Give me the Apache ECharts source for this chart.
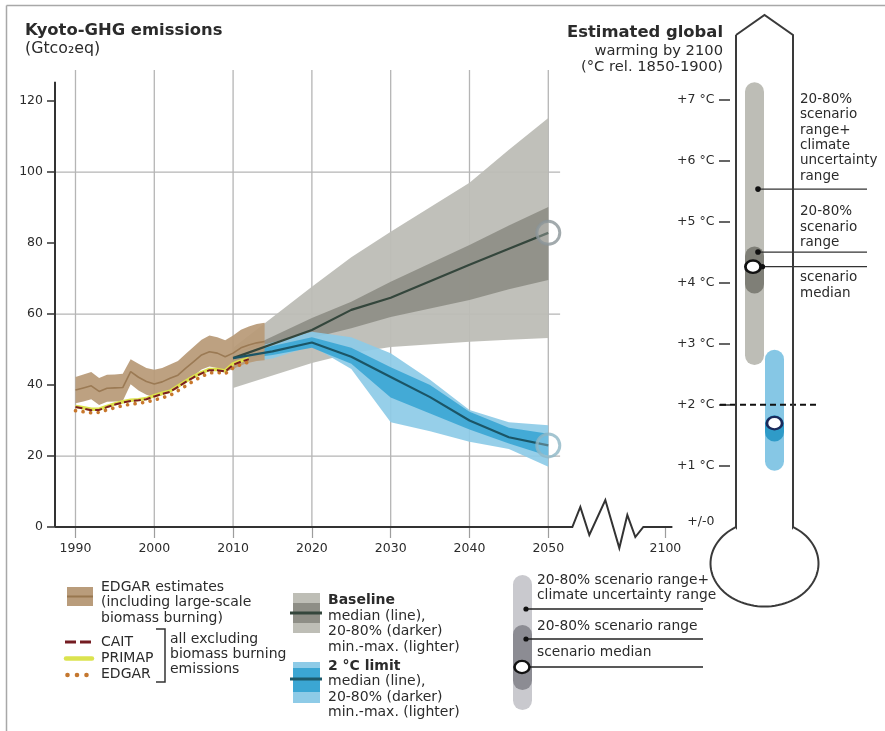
<!DOCTYPE html>
<html>
<head>
<meta charset="utf-8">
<script src="https://cdn.jsdelivr.net/npm/echarts@6/dist/echarts.min.js"></script>
<style>
html, body { margin: 0; padding: 0; background: #fff; }
#chart { width: 885px; height: 731px; }
</style>
</head>
<body>
<div id="chart"></div>
<script>
// ---- Historical Kyoto-GHG emissions (GtCO2eq) ----
const histYears = [1990, 1991, 1992, 1993, 1994, 1995, 1996, 1997, 1998, 1999, 2000, 2001, 2002,
  2003, 2004, 2005, 2006, 2007, 2008, 2009, 2010, 2011, 2012, 2013, 2014];
const edgarBioMedian = [38.6, 39.2, 39.8, 38.2, 39.1, 39.2, 39.3, 43.8, 42.2, 41.0, 40.3, 40.9, 41.9,
  42.8, 44.8, 46.6, 48.5, 49.4, 49.0, 48.0, 49.0, 50.5, 51.3, 51.9, 52.3];
const edgarBioUpper = [42.3, 43.0, 43.7, 42.0, 42.9, 43.0, 43.2, 47.3, 46.0, 44.8, 44.3, 44.8, 45.8,
  46.8, 48.8, 50.8, 52.8, 54.0, 53.5, 52.6, 54.0, 55.6, 56.5, 57.2, 57.6];
const edgarBioLower = [34.9, 35.4, 36.0, 34.4, 35.3, 35.4, 35.5, 40.2, 38.5, 37.3, 36.6, 37.1, 38.1,
  39.0, 41.0, 42.6, 44.4, 45.2, 44.8, 43.7, 44.5, 45.6, 46.3, 46.8, 47.0];

const exclYears = [1990, 1991, 1992, 1993, 1994, 1995, 1996, 1997, 1998, 1999, 2000, 2001, 2002,
  2003, 2004, 2005, 2006, 2007, 2008, 2009, 2010, 2011, 2012];
const caitValues = [33.8, 33.4, 32.9, 33.0, 33.8, 34.5, 35.1, 35.5, 35.7, 36.0, 36.8, 37.5, 38.1,
  39.5, 40.9, 42.2, 43.3, 44.2, 44.2, 43.8, 45.7, 46.6, 47.3];
const primapValues = [34.0, 33.6, 33.2, 33.2, 34.0, 34.7, 35.3, 35.7, 35.9, 36.2, 37.0, 37.7, 38.3,
  39.7, 41.1, 42.4, 43.5, 44.4, 44.4, 44.0, 46.0, 46.8, 47.5];
const edgarExclValues = [32.8, 32.5, 32.2, 32.3, 33.0, 33.6, 34.2, 34.6, 34.9, 35.2, 35.8, 36.4, 37.1,
  38.4, 39.8, 41.2, 42.4, 43.4, 43.6, 43.2, 44.8, 45.8, 46.5];

// ---- Baseline scenarios ----
const baseYears = [2010, 2020, 2025, 2030, 2040, 2045, 2050];
const baseMedian = [47.6, 55.5, 61.2, 64.6, 73.9, 78.4, 82.9];
const base20 = [46.8, 53.3, 56.0, 59.2, 64.0, 67.0, 69.6];
const base80 = [48.5, 58.9, 63.5, 69.1, 79.5, 85.0, 90.2];
const baseMin = [39.2, 46.2, 49.0, 50.7, 52.2, 52.8, 53.3];
const baseMax = [50.5, 67.7, 76.0, 83.2, 97.0, 106.3, 115.3];

// ---- 2 °C limit scenarios ----
const limitYears = [2010, 2015, 2020, 2025, 2030, 2035, 2040, 2045, 2050];
const limitMedian = [47.6, 49.5, 52.0, 48.0, 42.3, 36.6, 30.0, 25.3, 23.0];
const limit20 = [47.0, 48.5, 50.5, 46.0, 36.5, 32.0, 27.5, 23.5, 20.0];
const limit80 = [48.3, 51.0, 53.5, 50.5, 45.0, 40.0, 32.5, 28.0, 26.3];
const limitMin = [46.0, 47.5, 51.0, 44.5, 29.5, 27.0, 24.0, 22.0, 17.0];
const limitMax = [49.0, 52.0, 55.0, 53.5, 49.0, 41.5, 33.0, 29.5, 28.7];

// ---- Emission axis ticks ----
const xTickYears = [1990, 2000, 2010, 2020, 2030, 2040, 2050];
const xEndLabel = '2100';
const yTickValues = [0, 20, 40, 60, 80, 100, 120];
const yGridValues = [20, 60, 100];

// ---- Estimated global warming by 2100 (°C rel. 1850-1900) ----
const warmCategories = ['Baseline', '2 °C limit'];
const warmClimateRange = [[2.65, 7.28], [0.92, 2.90]];
const warmScenarioRange = [[3.82, 4.59], [1.40, 1.83]];
const warmMedian = [4.26, 1.70];
const warmPointers = [5.53, 4.50];
const tempTickValues = [1, 2, 3, 4, 5, 6, 7];
const tempLabelValues = [0, 1, 2, 3, 4, 5, 6, 7];
const tempLimit = 2;

// ---- layout ----
const FONT = '"DejaVu Sans", sans-serif';
const X_MIN = 1987.4, X_MAX = 2066.76;
const END_POS = 2064.86;      // where the 2100 tick sits on the compressed axis
const BREAK_START = 2053.05;  // start of the axis break
const AXIS_END = 2065.75;
const GRID_END = 2051.5;
const Y_MAX = 128.8, Y_AXIS_TOP = 125.5;
const ZIGZAG = [[0, 0], [8, -20], [17, 8], [33, -27], [47, 21], [55, -12], [63, 10], [71, 0]];
const BAR_W = 19;
const TEXT = '#2b2b2b';
const GRID_C = '#b5b5b5';
const LEG = 14;     // legend text size
const NOTE = 13.5;  // thermometer annotation size

const chart = echarts.init(document.getElementById('chart'), null, { renderer: 'canvas' });

function band(years, lo, hi, color, z, opacity) {
  return {
    type: 'custom', xAxisIndex: 0, yAxisIndex: 0, z: z, silent: true,
    data: years.map((y, i) => [y, lo[i], hi[i]]),
    encode: { x: 0, y: [1, 2] },
    renderItem(params, api) {
      if (params.dataIndex !== 0) return null;
      const top = years.map((y, i) => api.coord([y, hi[i]]));
      const bottom = years.map((y, i) => api.coord([y, lo[i]])).reverse();
      return { type: 'polygon', shape: { points: top.concat(bottom) },
        style: { fill: color, opacity: opacity == null ? 1 : opacity } };
    }
  };
}

function line(years, values, style, z) {
  return {
    type: 'line', xAxisIndex: 0, yAxisIndex: 0, z: z, silent: true,
    data: years.map((y, i) => [y, values[i]]),
    symbol: 'none', lineStyle: style, animation: false
  };
}

function warmBar(ranges, colors, z) {
  return {
    type: 'custom', xAxisIndex: 1, yAxisIndex: 1, z: z, silent: true,
    data: ranges.map((r, i) => [i, r[0], r[1]]),
    renderItem(params, api) {
      const lo = api.coord([api.value(0), api.value(1)]);
      const hi = api.coord([api.value(0), api.value(2)]);
      return { type: 'rect',
        shape: { x: lo[0] - BAR_W / 2, y: hi[1], width: BAR_W, height: lo[1] - hi[1], r: BAR_W / 2 },
        style: { fill: colors[params.dataIndex] } };
    }
  };
}

function txt(x, y, s, size, opt) {
  opt = opt || {};
  return {
    type: 'text', x: x, y: y, silent: true, z: 50,
    style: {
      text: s, fill: TEXT,
      font: (opt.bold ? 'bold ' : '') + size + 'px ' + FONT,
      align: opt.align || 'left', verticalAlign: 'middle'
    }
  };
}
function seg(x1, y1, x2, y2, stroke, w, extra) {
  return Object.assign({ type: 'line', silent: true, z: 40,
    shape: { x1, y1, x2, y2 }, style: { stroke, lineWidth: w } }, extra || {});
}
function rect(x, y, w, h, fill, r) {
  return { type: 'rect', silent: true, z: 40, shape: { x, y, width: w, height: h, r: r || 0 }, style: { fill } };
}
function dot(cx, cy, r, fill) {
  return { type: 'circle', silent: true, z: 41, shape: { cx, cy, r }, style: { fill } };
}

// thermometer outline: pointed cap, straight tube, elliptical bulb
function thermometerOutline() {
  const L = 736, R = 793, TOP = 35, APEX = 15, NECK = 527;
  const cx = 764.5, cy = 563.5, rx = 54, ry = 43;
  const a0 = Math.atan2((NECK - cy) / ry, (R - cx) / rx);
  const a1 = Math.atan2((NECK - cy) / ry, (L - cx) / rx) + Math.PI * 2;
  const pts = [[L, TOP], [(L + R) / 2, APEX], [R, TOP], [R, NECK]];
  const n = 80;
  for (let i = 0; i <= n; i++) {
    const a = a0 + (a1 - a0) * i / n;
    pts.push([cx + rx * Math.cos(a), cy + ry * Math.sin(a)]);
  }
  pts.push([L, NECK], [L, TOP]);
  return { type: 'polyline', silent: true, z: 30, shape: { points: pts },
    style: { fill: null, stroke: '#3a3a3a', lineWidth: 2, lineJoin: 'miter' } };
}

const graphics = [
  // frame
  seg(6.5, 5.5, 885, 5.5, '#a8a8a8', 1.5),
  seg(6.5, 5.5, 6.5, 731, '#a8a8a8', 1.5),
  // titles
  txt(25, 31, 'Kyoto-GHG emissions', 16.4, { bold: true }),
  txt(25, 49, '(Gtco₂eq)', 15.8),
  txt(723, 33, 'Estimated global', 16.4, { bold: true, align: 'right' }),
  txt(723, 51.5, 'warming by 2100', 14.7, { align: 'right' }),
  txt(723, 67, '(°C rel. 1850-1900)', 14.7, { align: 'right' }),
  thermometerOutline(),
  // thermometer annotation texts
  txt(800, 99, '20-80%', NOTE), txt(800, 114, 'scenario', NOTE), txt(800, 130, 'range+', NOTE),
  txt(800, 145, 'climate', NOTE), txt(800, 160.5, 'uncertainty', NOTE), txt(800, 176, 'range', NOTE),
  txt(800, 211.5, '20-80%', NOTE), txt(800, 227, 'scenario', NOTE), txt(800, 242.5, 'range', NOTE),
  txt(800, 277.5, 'scenario', NOTE), txt(800, 293, 'median', NOTE),

  // legend: EDGAR with biomass burning
  rect(67, 587, 26, 19, '#b99c7b'),
  seg(67, 596.5, 93, 596.5, '#98774f', 2),
  txt(101, 587, 'EDGAR estimates', LEG),
  txt(101, 602.5, '(including large-scale', LEG),
  txt(101, 618, 'biomass burning)', LEG),
  // legend: excluding biomass burning
  seg(65, 642, 93, 642, '#741c22', 3, { style: { stroke: '#741c22', lineWidth: 3, lineDash: [11, 4] } }),
  seg(66, 658.5, 92, 658.5, '#dbe34f', 4.5, { style: { stroke: '#dbe34f', lineWidth: 4.5, lineCap: 'round' } }),
  dot(67.5, 675, 2.3, '#c4772f'), dot(77, 675, 2.3, '#c4772f'), dot(86.5, 675, 2.3, '#c4772f'),
  txt(101, 642, 'CAIT', LEG), txt(101, 658.5, 'PRIMAP', LEG), txt(101, 674.5, 'EDGAR', LEG),
  { type: 'polyline', silent: true, z: 40, shape: { points: [[156, 629], [165, 629], [165, 682], [156, 682]] },
    style: { stroke: '#333', lineWidth: 1.5, fill: null } },
  txt(170, 639, 'all excluding', LEG), txt(170, 654, 'biomass burning', LEG), txt(170, 669, 'emissions', LEG),

  // legend: baseline
  rect(293, 593, 27, 40, '#bebeb6'),
  rect(293, 603, 27, 20, '#8e8e86'),
  seg(290, 613, 322, 613, '#34463c', 3),
  txt(328, 600, 'Baseline', LEG, { bold: true }),
  txt(328, 616, 'median (line),', LEG),
  txt(328, 631.5, '20-80% (darker)', LEG),
  txt(328, 647, 'min.-max. (lighter)', LEG),
  // legend: 2 °C limit
  rect(293, 662, 27, 41, '#8ecbe7'),
  rect(293, 668, 27, 24, '#3ba6d3'),
  seg(290, 679, 322, 679, '#1d5a6b', 3),
  txt(328, 666, '2 °C limit', LEG, { bold: true }),
  txt(328, 681.5, 'median (line),', LEG),
  txt(328, 697, '20-80% (darker)', LEG),
  txt(328, 712.5, 'min.-max. (lighter)', LEG),

  // legend: warming bar
  rect(513, 575, 19, 135, '#c9c9ce', 9.5),
  rect(513, 625, 19, 65, '#8c8c93', 9.5),
  seg(526, 609, 703, 609, '#222', 1.3),
  seg(526, 639, 703, 639, '#222', 1.3),
  seg(530, 667, 703, 667, '#222', 1.3),
  dot(526, 609, 2.6, '#111'), dot(526, 639, 2.6, '#111'),
  { type: 'circle', silent: true, z: 42, x: 522, y: 667, scaleY: 0.82, shape: { cx: 0, cy: 0, r: 7.5 },
    style: { fill: '#fff', stroke: '#111', lineWidth: 2.6 } },
  txt(537, 580, '20-80% scenario range+', 13.8),
  txt(537, 595, 'climate uncertainty range', 13.8),
  txt(537, 626, '20-80% scenario range', 13.8),
  txt(537, 652, 'scenario median', 13.8)
];

const option = {
  backgroundColor: '#fff',
  animation: false,
  grid: [
    { left: 55, width: 625.36, top: 70, bottom: 204 },
    { left: 744.5, width: 40, top: 38.2, bottom: 204 }
  ],
  xAxis: [
    {
      type: 'value', gridIndex: 0, min: X_MIN, max: X_MAX,
      axisLine: { show: false }, splitLine: { show: false },
      axisTick: { show: true, length: 11, customValues: xTickYears.concat([END_POS]),
        lineStyle: { color: '#9d9d9d', width: 1.2 } },
      axisLabel: { customValues: xTickYears.concat([END_POS]), margin: 15, color: TEXT,
        fontFamily: FONT, fontSize: 12.5,
        formatter: v => (v === END_POS ? xEndLabel : String(v)) }
    },
    { type: 'category', gridIndex: 1, data: warmCategories, show: false }
  ],
  yAxis: [
    {
      type: 'value', gridIndex: 0, min: 0, max: Y_MAX,
      axisLine: { show: false }, splitLine: { show: false },
      axisTick: { show: true, length: 8, customValues: yTickValues, lineStyle: { color: '#333', width: 1.5 } },
      axisLabel: { customValues: yTickValues, margin: 12, color: TEXT, fontFamily: FONT, fontSize: 12.5 }
    },
    {
      type: 'value', gridIndex: 1, min: 0, max: 8, offset: 14.5,
      axisLine: { show: false }, splitLine: { show: false },
      axisTick: { show: true, length: 11, customValues: tempTickValues, lineStyle: { color: '#333', width: 1.5 } },
      axisLabel: { customValues: tempLabelValues, margin: 15.5, color: TEXT, fontFamily: FONT, fontSize: 12.5,
        formatter: v => (v === 0 ? '{z|+/-0}' : '+' + v + ' °C'),
        rich: { z: { fontFamily: FONT, fontSize: 12.5, color: TEXT, padding: [0, 0, 11, 0] } } }
    }
  ],
  graphic: graphics,
  series: [
    // vertical grid lines
    {
      type: 'custom', xAxisIndex: 0, yAxisIndex: 0, z: 0, silent: true,
      data: xTickYears.map(y => [y]),
      renderItem(params, api) {
        const a = api.coord([api.value(0), 0]);
        const b = api.coord([api.value(0), Y_MAX]);
        return { type: 'line', shape: { x1: a[0], y1: a[1], x2: b[0], y2: b[1] },
          style: { stroke: GRID_C, lineWidth: 1.3 } };
      }
    },
    // horizontal grid lines
    {
      type: 'custom', xAxisIndex: 0, yAxisIndex: 0, z: 0, silent: true,
      data: yGridValues.map(v => [X_MIN, v]),
      renderItem(params, api) {
        const a = api.coord([X_MIN, api.value(1)]);
        const b = api.coord([GRID_END, api.value(1)]);
        return { type: 'line', shape: { x1: a[0], y1: a[1], x2: b[0], y2: b[1] },
          style: { stroke: GRID_C, lineWidth: 1.3 } };
      }
    },
    // axis lines with the break
    {
      type: 'custom', xAxisIndex: 0, yAxisIndex: 0, z: 20, silent: true,
      data: [[X_MIN, 0]],
      renderItem(params, api) {
        const o = api.coord([X_MIN, 0]);
        const b = api.coord([BREAK_START, 0]);
        const e = api.coord([AXIS_END, 0]);
        const t = api.coord([X_MIN, Y_AXIS_TOP]);
        const zig = ZIGZAG.map(p => [b[0] + p[0], b[1] + p[1]]);
        return { type: 'group', children: [
          { type: 'polyline', shape: { points: [o].concat(zig, [e]) },
            style: { stroke: '#333', lineWidth: 2, fill: null, lineJoin: 'miter' } },
          { type: 'line', shape: { x1: t[0], y1: t[1], x2: o[0], y2: o[1] },
            style: { stroke: '#333', lineWidth: 2 } }
        ] };
      }
    },
    // scenario ranges
    band(baseYears, baseMin, baseMax, '#bdbdb6', 2, 0.95),
    band(baseYears, base20, base80, '#8f8f87', 3, 0.95),
    band(limitYears, limitMin, limitMax, '#8dcbe7', 4, 0.92),
    band(limitYears, limit20, limit80, '#3ea8d5', 5, 0.95),
    // historical EDGAR incl. biomass burning
    band(histYears, edgarBioLower, edgarBioUpper, '#b89a77', 6, 0.93),
    line(histYears, edgarBioMedian, { color: '#9b7a54', width: 1.6 }, 7),
    // excluding biomass burning
    line(exclYears, primapValues, { color: '#dce24c', width: 3.5 }, 8),
    line(exclYears, edgarExclValues, { color: '#c8772c', width: 3.6, type: [0.1, 7.5], cap: 'round' }, 9),
    line(exclYears, caitValues, { color: '#7a1c22', width: 2, type: [7, 3] }, 10),
    // scenario medians
    line(baseYears, baseMedian, { color: '#34463c', width: 2.2 }, 11),
    line(limitYears, limitMedian, { color: '#1b5566', width: 2.2 }, 12),
    {
      type: 'scatter', xAxisIndex: 0, yAxisIndex: 0, z: 13, silent: true,
      data: [[baseYears[baseYears.length - 1], baseMedian[baseMedian.length - 1]]],
      symbol: 'circle', symbolSize: 23,
      itemStyle: { color: 'rgba(255,255,255,0.3)', borderColor: '#8b9599', borderWidth: 3 }
    },
    {
      type: 'scatter', xAxisIndex: 0, yAxisIndex: 0, z: 13, silent: true,
      data: [[limitYears[limitYears.length - 1], limitMedian[limitMedian.length - 1]]],
      symbol: 'circle', symbolSize: 23,
      itemStyle: { color: 'rgba(255,255,255,0.3)', borderColor: '#8db7c6', borderWidth: 3 }
    },

    // warming by 2100
    warmBar(warmClimateRange, ['#bdbdb6', '#86c7e5'], 20),
    warmBar(warmScenarioRange, ['#7f7f77', '#2f9bc8'], 21),
    {
      type: 'custom', xAxisIndex: 1, yAxisIndex: 1, z: 22, silent: true,
      data: warmMedian.map((v, i) => [i, v]),
      renderItem(params, api) {
        const c = api.coord([api.value(0), api.value(1)]);
        const stroke = params.dataIndex === 0 ? '#111' : '#1b2a5b';
        const children = [
          { type: 'circle', x: c[0] - (params.dataIndex === 0 ? 1.5 : 0), y: c[1], scaleY: 0.82,
            shape: { cx: 0, cy: 0, r: 7.6 }, style: { fill: '#fff', stroke: stroke, lineWidth: 2.8 } }
        ];
        if (params.dataIndex === 0) {
          children.push({ type: 'line', shape: { x1: c[0] + 6, y1: c[1], x2: 867, y2: c[1] },
            style: { stroke: '#333', lineWidth: 1.3 } });
          children.push({ type: 'circle', shape: { cx: c[0] + 8, cy: c[1], r: 2.6 }, style: { fill: '#111' } });
        }
        return { type: 'group', children: children };
      }
    },
    {
      type: 'custom', xAxisIndex: 1, yAxisIndex: 1, z: 22, silent: true,
      data: warmPointers.map(v => [0, v]),
      renderItem(params, api) {
        const c = api.coord([api.value(0), api.value(1)]);
        return { type: 'group', children: [
          { type: 'line', shape: { x1: c[0] + 3.5, y1: c[1], x2: 867, y2: c[1] },
            style: { stroke: '#333', lineWidth: 1.3 } },
          { type: 'circle', shape: { cx: c[0] + 3.5, cy: c[1], r: 2.8 }, style: { fill: '#111' } }
        ] };
      }
    },
    {
      type: 'custom', xAxisIndex: 1, yAxisIndex: 1, z: 23, silent: true,
      data: [[0, tempLimit]],
      renderItem(params, api) {
        const c = api.coord([0, api.value(1)]);
        return { type: 'line', shape: { x1: 720, y1: c[1], x2: 818, y2: c[1] },
          style: { stroke: '#111', lineWidth: 2, lineDash: [6, 4] } };
      }
    }
  ]
};

chart.setOption(option);
</script>
</body>
</html>
